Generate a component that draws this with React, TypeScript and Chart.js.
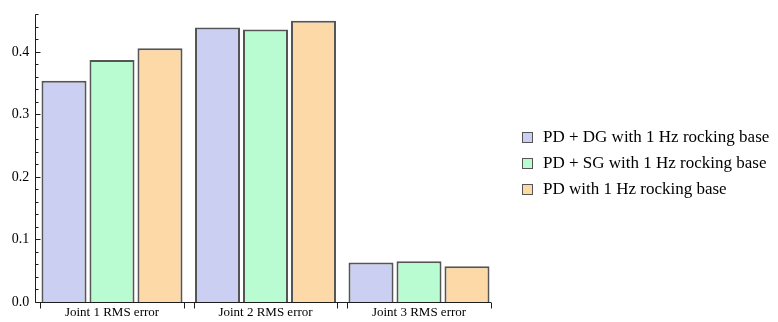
import React, { useEffect, useRef } from "react";
import { Chart, registerables } from "chart.js";

Chart.register(...registerables);

// Categories and series
const categories = ["Joint 1 RMS error", "Joint 2 RMS error", "Joint 3 RMS error"];
const seriesNames = [
  "PD + DG with 1 Hz rocking base",
  "PD + SG with 1 Hz rocking base",
  "PD with 1 Hz rocking base",
];
const pdDg = [0.354, 0.439, 0.063];
const pdSg = [0.387, 0.436, 0.065];
const pdOnly = [0.406, 0.45, 0.057];
const yTickValues = [0, 0.1, 0.2, 0.3, 0.4];
const yAxisMax = 0.46;

const fillColors = ["rgb(203,208,243)", "rgb(186,252,210)", "rgb(253,217,168)"];
const edgeColor = "rgb(85,85,85)";
const axisColor = "rgb(30,30,30)";
const serif = "'Liberation Serif', 'Times New Roman', serif";

const CAT_PCT = 0.938;
const BAR_PCT = 0.9375;

// Draws Mathematica-style axes: inward ticks on the y axis, group brackets on the x axis
const axesPlugin = {
  id: "axesPlugin",
  afterDatasetsDraw(chart: any) {
    const { ctx, chartArea, scales } = chart;
    const xs = scales.x;
    const ys = scales.y;
    const ax = Math.round(chartArea.left) + 0.5;
    const y0 = Math.round(ys.getPixelForValue(0)) + 0.5;
    const yTop = ys.getPixelForValue(yAxisMax);
    const catW = (xs.right - xs.left) / categories.length;
    const half = (catW * CAT_PCT) / 2;
    const lastRight = xs.getPixelForValue(categories.length - 1) + half;

    ctx.save();
    ctx.strokeStyle = axisColor;
    ctx.lineWidth = 1;
    ctx.beginPath();
    ctx.moveTo(ax, yTop);
    ctx.lineTo(ax, y0);
    ctx.moveTo(ax, y0);
    ctx.lineTo(lastRight, y0);
    // y ticks every 0.02, longer at each 0.1
    for (let i = 0; i <= 23; i++) {
      const v = i * 0.02;
      const py = Math.round(ys.getPixelForValue(v)) + 0.5;
      const len = i % 5 === 0 ? 5 : 3;
      ctx.moveTo(ax, py);
      ctx.lineTo(ax + len, py);
    }
    // group edge ticks below the x axis
    for (let c = 0; c < categories.length; c++) {
      const cx = xs.getPixelForValue(c);
      for (const ex of [cx - half, cx + half]) {
        const px = Math.round(ex) + 0.5;
        ctx.moveTo(px, y0);
        ctx.lineTo(px, y0 + 6);
      }
    }
    ctx.stroke();
    ctx.restore();
  },
};

export default function App() {
  const canvasRef = useRef<HTMLCanvasElement | null>(null);

  useEffect(() => {
    const canvas = canvasRef.current;
    if (!canvas) return;
    const data = [pdDg, pdSg, pdOnly];
    const chart = new Chart(canvas, {
      type: "bar",
      data: {
        labels: categories,
        datasets: seriesNames.map((name, i) => ({
          label: name,
          data: data[i],
          backgroundColor: fillColors[i],
          borderColor: edgeColor,
          borderWidth: 2,
          categoryPercentage: CAT_PCT,
          barPercentage: BAR_PCT,
        })),
      },
      options: {
        responsive: false,
        animation: false,
        devicePixelRatio: 1,
        layout: { padding: { left: 0, right: 282.25, top: 13, bottom: 0 } },
        plugins: { legend: { display: false }, tooltip: { enabled: false } },
        scales: {
          x: {
            grid: { display: false, drawTicks: false },
            border: { display: false },
            ticks: {
              padding: 3,
              color: "#000",
              font: { family: serif, size: 13 },
              maxRotation: 0,
            },
            afterFit: (s: any) => {
              s.height = 20;
            },
          },
          y: {
            min: 0,
            max: yAxisMax,
            grid: { display: false, drawTicks: false },
            border: { display: false },
            afterBuildTicks: (s: any) => {
              s.ticks = yTickValues.map((v) => ({ value: v }));
            },
            ticks: {
              padding: 6,
              color: "#000",
              font: { family: serif, size: 14 },
              callback: (v: any) => Number(v).toFixed(1),
            },
            afterFit: (s: any) => {
              s.width = 35.25;
            },
          },
        },
      },
      plugins: [axesPlugin],
    });
    return () => chart.destroy();
  }, []);

  const rowTops = [128, 154, 180];
  return (
    <div style={{ position: "absolute", left: 0, top: 0, width: 778, height: 322, background: "#fff" }}>
      <canvas ref={canvasRef} width={778} height={322} style={{ display: "block" }} />
      {seriesNames.map((name, i) => (
        <div
          key={name}
          style={{
            position: "absolute",
            left: 522,
            top: rowTops[i],
            height: 18,
            display: "flex",
            alignItems: "center",
            whiteSpace: "nowrap",
            fontFamily: serif,
            fontSize: 17,
            color: "#000",
          }}
        >
          <span
            style={{
              display: "inline-block",
              width: 9,
              height: 9,
              background: fillColors[i],
              border: `1px solid ${edgeColor}`,
              marginRight: 10,
            }}
          />
          <span>{name}</span>
        </div>
      ))}
    </div>
  );
}
